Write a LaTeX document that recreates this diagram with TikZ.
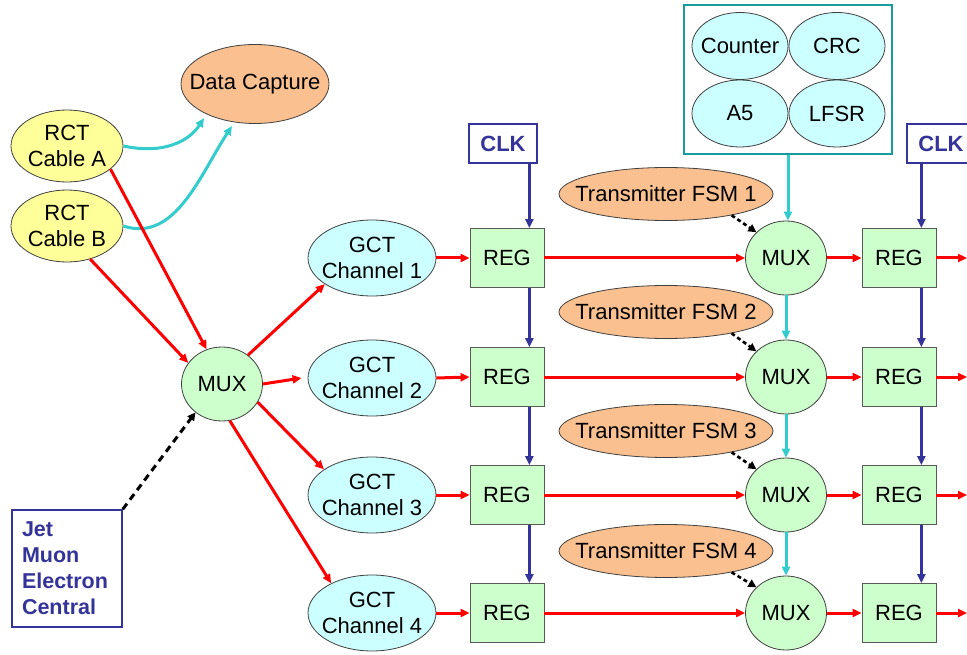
\documentclass[tikz,border=0pt]{standalone}
\usepackage{fontspec}
\setmainfont{Liberation Sans}
\usetikzlibrary{shapes.geometric,arrows.meta}
\definecolor{cyell}{HTML}{FFFF99}
\definecolor{corange}{HTML}{FAC090}
\definecolor{ccyan}{HTML}{CCFFFF}
\definecolor{cgreen}{HTML}{CCFFCC}
\definecolor{cblue}{HTML}{333399}
\definecolor{cteal}{HTML}{33CCCC}
\definecolor{cbox}{HTML}{169C9C}
\begin{document}
\begin{tikzpicture}[x=1pt,y=-1pt,
  every node/.style={font=\fontsize{22}{26}\selectfont},
  every label/.style={align=center,inner sep=0pt},
  ell/.style={ellipse,draw=black!75,line width=0.8pt,inner sep=0pt,align=center},
  yel/.style={ell,fill=cyell,minimum width=112pt,minimum height=72pt},
  gct/.style={ell,fill=ccyan,minimum width=128pt,minimum height=76pt},
  pool/.style={ell,fill=ccyan,minimum width=96pt,minimum height=67pt},
  fsm/.style={ell,fill=corange,minimum width=214pt,minimum height=53pt},
  mux/.style={ell,fill=cgreen,minimum width=81pt,minimum height=74pt},
  reg/.style={rectangle,draw=black!65,line width=0.8pt,fill=cgreen,minimum width=74pt,minimum height=59pt,inner sep=0pt},
  clkbox/.style={rectangle,draw=cblue,line width=1.5pt,text=cblue,font=\fontsize{22}{26}\selectfont\bfseries,minimum width=68pt,minimum height=39pt,inner sep=0pt},
  tip/.style={-{Triangle[length=9pt,width=8pt]}},
  redar/.style={tip,draw=red,line width=3pt},
  bluar/.style={tip,draw=cblue,line width=3pt},
  cyar/.style={tip,draw=cteal,line width=3pt},
  dashar/.style={-{Triangle[length=8pt,width=8pt]},draw=black,line width=3pt,dash pattern=on 7pt off 5pt},
  sdashar/.style={-{Triangle[length=8pt,width=8pt]},draw=black,line width=2.6pt,dash pattern=on 4pt off 3pt}
]
\useasboundingbox (0,0) rectangle (967,655);
\clip (0,0) rectangle (967,655);

% left part
\node[ell,fill=corange,minimum width=148pt,minimum height=79pt,label={center:Data Capture}] (dc) at (255,84) {};
\node[yel,label={center:RCT\\Cable A}] (ra) at (67,146) {};
\node[yel,label={center:RCT\\Cable B}] (rb) at (67,226) {};
\node[mux] (muxl) at (222,384) {MUX};
\node[rectangle,draw=cblue,line width=1.5pt,text=cblue,align=left,inner sep=0pt,
      minimum width=110pt,minimum height=117pt,
      font=\fontsize{21.5}{26}\selectfont\bfseries] (sel) at (67,568.5)
      {\parbox{90pt}{Jet\\Muon\\Electron\\Central}};

% GCT channels
\node[gct,label={center:GCT\\Channel 1}] (ch1) at (372,258) {};
\node[gct,label={center:GCT\\Channel 2}] (ch2) at (372,378) {};
\node[gct,label={center:GCT\\Channel 3}] (ch3) at (372,495) {};
\node[gct,label={center:GCT\\Channel 4}] (ch4) at (372,613) {};

% left registers
\node[reg] (rl1) at (507,258) {REG};
\node[reg] (rl2) at (507,377) {REG};
\node[reg] (rl3) at (507,495) {REG};
\node[reg] (rl4) at (507,613) {REG};
\node[clkbox] (clk1) at (503,143.5) {CLK};

% right muxes
\node[mux] (mr1) at (786,258) {MUX};
\node[mux] (mr2) at (786,377) {MUX};
\node[mux] (mr3) at (786,495) {MUX};
\node[mux] (mr4) at (786,613) {MUX};

% right registers
\node[reg] (rr1) at (899,258) {REG};
\node[reg] (rr2) at (899,377) {REG};
\node[reg] (rr3) at (899,495) {REG};
\node[reg] (rr4) at (899,613) {REG};
\node[clkbox] (clk2) at (941,143.5) {CLK};

% FSMs
\node[fsm,label={center:Transmitter FSM 1}] (f1) at (666,194) {};
\node[fsm,label={center:Transmitter FSM 2}] (f2) at (666,312) {};
\node[fsm,label={center:Transmitter FSM 3}] (f3) at (666,431) {};
\node[fsm,label={center:Transmitter FSM 4}] (f4) at (666,551) {};

% pool box
\node[rectangle,draw=cbox,line width=1.5pt,minimum width=208pt,minimum height=149pt,inner sep=0pt] (pool) at (788,79.5) {};
\node[pool,label={center:Counter}] (cnt) at (740,46) {};
\node[pool,label={center:CRC}] (crc) at (837,46) {};
\node[pool,label={center:A5}] (a5) at (740,113.5) {};
\node[pool,label={center:LFSR}] (lfsr) at (837,113.5) {};

% cyan curves to data capture
\coordinate (dca) at (204,118);
\coordinate (dcb) at (232,126);
\draw[cyar] (ra.east) .. controls (165,155) and (190,140) .. (dca);
\draw[cyar] (rb.east) .. controls (175,243) and (200,175) .. (dcb);

% red into left mux
\draw[redar] (ra.-28) -- (muxl.114);
\draw[redar] (rb.-55) -- (muxl.148);
\draw[dashar] (sel.north east) -- (muxl.227);

% mux to channels
\draw[redar] (muxl.48) -- (ch1.209);
\draw[redar] (muxl.east) -- ([xshift=-6pt]ch2.west);
\draw[redar] (muxl.-27) -- (ch3.152);
\draw[redar] (muxl.-78) -- (ch4.144);

% channels to registers, registers to muxes, muxes to registers
\foreach \i in {1,2,3,4}{
  \draw[redar] (ch\i.east) -- (rl\i.west);
  \draw[redar] (rl\i.east) -- (mr\i.west);
  \draw[redar] (mr\i.east) -- (rr\i.west);
  \coordinate (out\i) at (967,0 |- rr\i.east);
  \draw[redar] (rr\i.east) -- (out\i);
}

% clock lines
\coordinate (k1) at ([xshift=-15pt]rl1.north east);
\coordinate (k2) at ([xshift=-15pt]rr1.north east);
\draw[bluar] (k1 |- clk1.south) -- (k1);
\draw[bluar] (k2 |- clk2.south) -- (k2);
\draw[bluar] ([xshift=-15pt]rl1.south east) -- ([xshift=-15pt]rl2.north east);
\draw[bluar] ([xshift=-15pt]rl2.south east) -- ([xshift=-15pt]rl3.north east);
\draw[bluar] ([xshift=-15pt]rl3.south east) -- ([xshift=-15pt]rl4.north east);
\draw[bluar] ([xshift=-15pt]rr1.south east) -- ([xshift=-15pt]rr2.north east);
\draw[bluar] ([xshift=-15pt]rr2.south east) -- ([xshift=-15pt]rr3.north east);
\draw[bluar] ([xshift=-15pt]rr3.south east) -- ([xshift=-15pt]rr4.north east);

% cyan chain
\draw[cyar] (pool.south) -- (pool.south |- mr1.north);
\draw[cyar] (mr1.south) -- (mr2.north);
\draw[cyar] (mr2.south) -- (mr3.north);
\draw[cyar] (mr3.south) -- (mr4.north);

% fsm dashed
\draw[sdashar] (f1.-18) -- (mr1.139);
\draw[sdashar] (f2.-18) -- (mr2.139);
\draw[sdashar] (f3.-18) -- (mr3.139);
\draw[sdashar] (f4.-18) -- (mr4.139);
\end{tikzpicture}
\end{document}
